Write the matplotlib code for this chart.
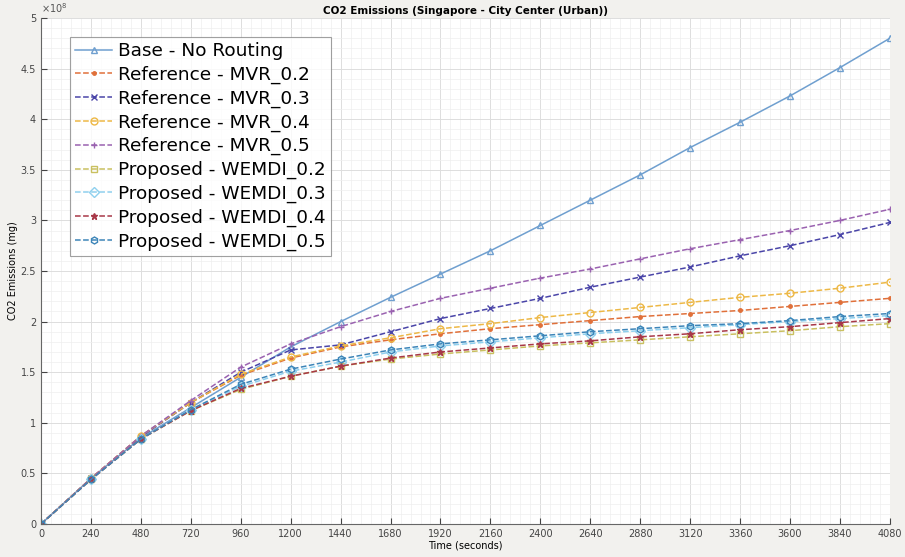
import matplotlib.pyplot as plt
from matplotlib.ticker import MultipleLocator

# time axis (seconds)
time_s = [0, 240, 480, 720, 960, 1200, 1440, 1680, 1920, 2160, 2400,
          2640, 2880, 3120, 3360, 3600, 3840, 4080]

# CO2 emissions, units of 1e8 mg
base_no_routing = [0, 0.45, 0.85, 1.15, 1.45, 1.75, 2.00, 2.24, 2.47, 2.70,
                   2.95, 3.20, 3.45, 3.72, 3.97, 4.23, 4.51, 4.80]
mvr_02 = [0, 0.45, 0.87, 1.20, 1.47, 1.64, 1.75, 1.82, 1.88, 1.93,
          1.97, 2.01, 2.05, 2.08, 2.11, 2.15, 2.19, 2.23]
mvr_03 = [0, 0.45, 0.86, 1.20, 1.50, 1.72, 1.77, 1.90, 2.03, 2.13,
          2.23, 2.34, 2.44, 2.54, 2.65, 2.75, 2.86, 2.98]
mvr_04 = [0, 0.45, 0.87, 1.20, 1.48, 1.65, 1.76, 1.84, 1.93, 1.98,
          2.04, 2.09, 2.14, 2.19, 2.24, 2.28, 2.33, 2.39]
mvr_05 = [0, 0.45, 0.87, 1.22, 1.55, 1.78, 1.95, 2.10, 2.23, 2.33,
          2.43, 2.52, 2.62, 2.72, 2.81, 2.90, 3.00, 3.11]
wemdi_02 = [0, 0.44, 0.84, 1.12, 1.33, 1.46, 1.56, 1.63, 1.68, 1.72,
            1.76, 1.79, 1.82, 1.85, 1.88, 1.91, 1.95, 1.98]
wemdi_03 = [0, 0.44, 0.84, 1.13, 1.36, 1.51, 1.60, 1.70, 1.76, 1.80,
            1.84, 1.88, 1.91, 1.94, 1.97, 2.00, 2.03, 2.06]
wemdi_04 = [0, 0.44, 0.84, 1.12, 1.34, 1.46, 1.56, 1.64, 1.70, 1.74,
            1.78, 1.81, 1.85, 1.88, 1.92, 1.95, 1.99, 2.03]
wemdi_05 = [0, 0.44, 0.84, 1.13, 1.38, 1.53, 1.63, 1.72, 1.78, 1.82,
            1.86, 1.90, 1.93, 1.96, 1.98, 2.01, 2.05, 2.08]

y_ticks = [0, 0.5, 1, 1.5, 2, 2.5, 3, 3.5, 4, 4.5, 5]
y_tick_labels = ['0', '0.5', '1', '1.5', '2', '2.5', '3', '3.5', '4', '4.5', '5']

series = [
    ('Base - No Routing', base_no_routing, '#6f9fcf', '-', '^', 'none'),
    ('Reference - MVR_0.2', mvr_02, '#e0703a', '--', '.', None),
    ('Reference - MVR_0.3', mvr_03, '#4a45a8', '--', 'x', None),
    ('Reference - MVR_0.4', mvr_04, '#edb846', '--', 'o', 'none'),
    ('Reference - MVR_0.5', mvr_05, '#9a62b0', '--', '+', None),
    ('Proposed - WEMDI_0.2', wemdi_02, '#c9c060', '--', 's', 'none'),
    ('Proposed - WEMDI_0.3', wemdi_03, '#8fd0ee', '--', 'D', 'none'),
    ('Proposed - WEMDI_0.4', wemdi_04, '#a83848', '--', '*', None),
    ('Proposed - WEMDI_0.5', wemdi_05, '#3d85b8', '--', 'h', 'none'),
]

fig = plt.figure(figsize=(9.05, 5.57), dpi=100, facecolor='#f2f1ee')
ax = fig.add_axes([0.0453, 0.0592, 0.938, 0.9085])
ax.set_facecolor('white')

for label, vals, col, ls, mk, mfc in series:
    kw = dict(color=col, linestyle=ls, marker=mk, markersize=5, linewidth=1.1, label=label)
    if mfc is not None:
        kw['markerfacecolor'] = mfc
    ax.plot(time_s, vals, **kw)

ax.set_xticks(time_s)
ax.set_yticks(y_ticks)
ax.set_yticklabels(y_tick_labels)
ax.set_xlim(0, 4080)
ax.set_ylim(0, 5)
ax.xaxis.set_minor_locator(MultipleLocator(48))
ax.yaxis.set_minor_locator(MultipleLocator(0.1))
ax.grid(True, which='major', color='#dddddd', linewidth=0.7)
ax.grid(True, which='minor', color='#eeeeee', linewidth=0.5)
ax.tick_params(direction='in', labelsize=7, colors='#444444', length=4)
ax.tick_params(which='minor', length=0)
for s in ['top', 'right']:
    ax.spines[s].set_visible(False)
for s in ['left', 'bottom']:
    ax.spines[s].set_color('#666666')

ax.text(0.0, 1.005, r'$\times10^8$', transform=ax.transAxes, fontsize=7,
        color='#555555', va='bottom', ha='left')
ax.set_title('CO2 Emissions (Singapore - City Center (Urban))', fontsize=7.5,
             fontweight='bold', pad=3)
ax.set_xlabel('Time (seconds)', fontsize=7, labelpad=1)
ax.set_ylabel('CO2 Emissions (mg)', fontsize=7, labelpad=2)

leg = ax.legend(loc='upper left', bbox_to_anchor=(0.034, 0.963), borderaxespad=0,
                fontsize=13.3, frameon=True, fancybox=False, handlelength=2.0,
                borderpad=0.3, labelspacing=0.3, handletextpad=0.3)
leg.get_frame().set_edgecolor('#888888')
leg.get_frame().set_linewidth(0.8)

fig.savefig('out.png', dpi=100, facecolor=fig.get_facecolor())
